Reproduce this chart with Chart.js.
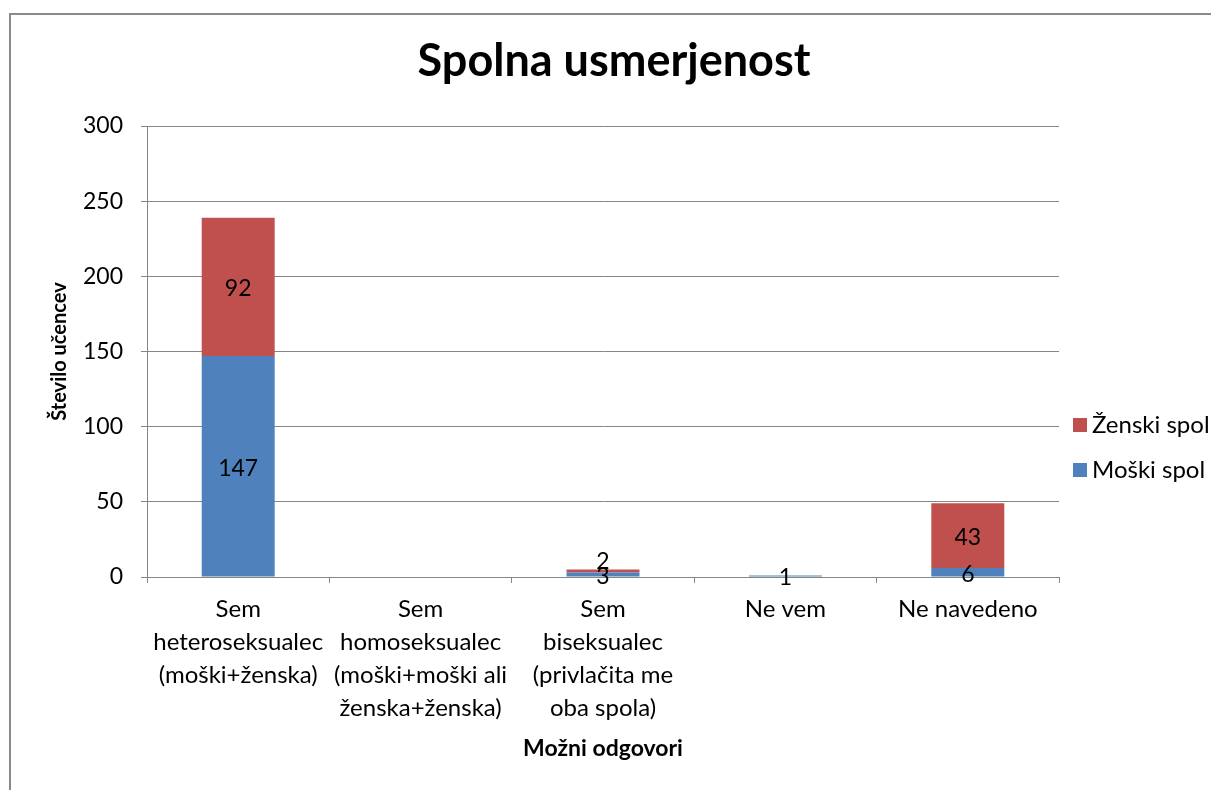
<!DOCTYPE html>
<html>
<head>
<meta charset="utf-8">
<script src="https://cdn.jsdelivr.net/npm/chart.js@4/dist/chart.umd.min.js"></script>
<style>
  body { margin: 0; background: #fff; }
  #frame { position: absolute; left: 9px; top: 13px; width: 1300px; height: 900px; border: 2px solid #8a8a8a; }
  #wrap { position: absolute; left: 0; top: 0; width: 1211px; height: 790px; }
</style>
</head>
<body>
<div id="frame"></div>
<div id="wrap"><canvas id="spolChart"></canvas></div>
<script>
var categories = [
  ['Sem', 'heteroseksualec', '(moški+ženska)'],
  ['Sem', 'homoseksualec', '(moški+moški ali', 'ženska+ženska)'],
  ['Sem', 'biseksualec', '(privlačita me', 'oba spola)'],
  'Ne vem',
  'Ne navedeno'
];
var moskiSpol = [147, 0, 3, 1, 6];
var zenskiSpol = [92, 0, 2, 0, 43];
var yTicks = [0, 50, 100, 150, 200, 250, 300];

var FONT = 'Lato, "Open Sans", sans-serif';

// value labels in the middle of each bar part, zeros left out
var barLabels = {
  id: 'barLabels',
  afterDatasetsDraw: function(chart) {
    var ctx = chart.ctx;
    ctx.save();
    ctx.font = '23px ' + FONT;
    ctx.fillStyle = '#000';
    ctx.textAlign = 'center';
    ctx.textBaseline = 'middle';
    chart.data.datasets.forEach(function(ds, i) {
      var meta = chart.getDatasetMeta(i);
      meta.data.forEach(function(bar, j) {
        var v = ds.data[j];
        if (!v) return;
        var y = (bar.y + bar.base) / 2 + 2;
        // small top segment: push label up so it doesn't sit on the one below
        if (i === 1 && Math.abs(bar.base - bar.y) < 10 && moskiSpol[j]) y -= 11;
        ctx.fillText(v, bar.x, y);
      });
    });
    ctx.restore();
  }
};

// title and legend drawn by hand so they sit where the original has them
var titleAndLegend = {
  id: 'titleAndLegend',
  afterDraw: function(chart) {
    var ctx = chart.ctx;
    ctx.save();
    ctx.fillStyle = '#000';
    ctx.font = 'bold 45px ' + FONT;
    ctx.textAlign = 'center';
    ctx.textBaseline = 'alphabetic';
    ctx.fillText('Spolna usmerjenost', 614, 76);

    var items = [['Ženski spol', '#c0504d', 425], ['Moški spol', '#4f81bd', 470]];
    ctx.font = '24px ' + FONT;
    ctx.textBaseline = 'middle';
    ctx.textAlign = 'left';
    items.forEach(function(it) {
      ctx.fillStyle = it[1];
      ctx.fillRect(1073, it[2] - 7, 14, 14);
      ctx.fillStyle = '#000';
      ctx.fillText(it[0], 1092, it[2]);
    });
    ctx.restore();
  }
};

var ctx = document.getElementById('spolChart').getContext('2d');
var chart = new Chart(ctx, {
  type: 'bar',
  data: {
    labels: categories,
    datasets: [{
      label: 'Moški spol',
      data: moskiSpol,
      backgroundColor: '#4f81bd'
    }, {
      label: 'Ženski spol',
      data: zenskiSpol,
      backgroundColor: '#c0504d'
    }]
  },
  options: {
    responsive: true,
    maintainAspectRatio: false,
    animation: false,
    layout: { padding: { left: 48, top: 126, right: 152, bottom: 0 } },
    datasets: { bar: { categoryPercentage: 1, barPercentage: 0.4 } },
    plugins: {
      legend: { display: false },
      tooltip: { enabled: false },
      title: { display: false }
    },
    scales: {
      x: {
        stacked: true,
        afterFit: function(s) { s.height = 213; },
        grid: { offset: true, drawOnChartArea: false, tickLength: 6, color: '#868686' },
        border: { color: '#868686' },
        ticks: {
          color: '#000',
          maxRotation: 0,
          autoSkip: false,
          padding: 10,
          font: { family: FONT, size: 24, lineHeight: 1.375 }
        },
        title: {
          display: true,
          text: 'Možni odgovori',
          color: '#000',
          font: { family: FONT, size: 23, weight: 'bold' },
          padding: { top: 0, bottom: 28 }
        }
      },
      y: {
        stacked: true,
        min: 0,
        max: 300,
        afterFit: function(s) { s.width = 99; },
        afterBuildTicks: function(s) {
          s.ticks = yTicks.map(function(v) { return { value: v }; });
        },
        grid: { color: '#868686', tickLength: 6 },
        border: { color: '#868686' },
        ticks: {
          color: '#000',
          padding: 18,
          font: { family: FONT, size: 23 }
        },
        title: {
          display: true,
          text: 'Število učencev',
          color: '#000',
          font: { family: FONT, size: 20, weight: 'bold' },
          padding: { top: 0, bottom: 0 }
        }
      }
    }
  },
  plugins: [barLabels, titleAndLegend]
});
</script>
</body>
</html>
